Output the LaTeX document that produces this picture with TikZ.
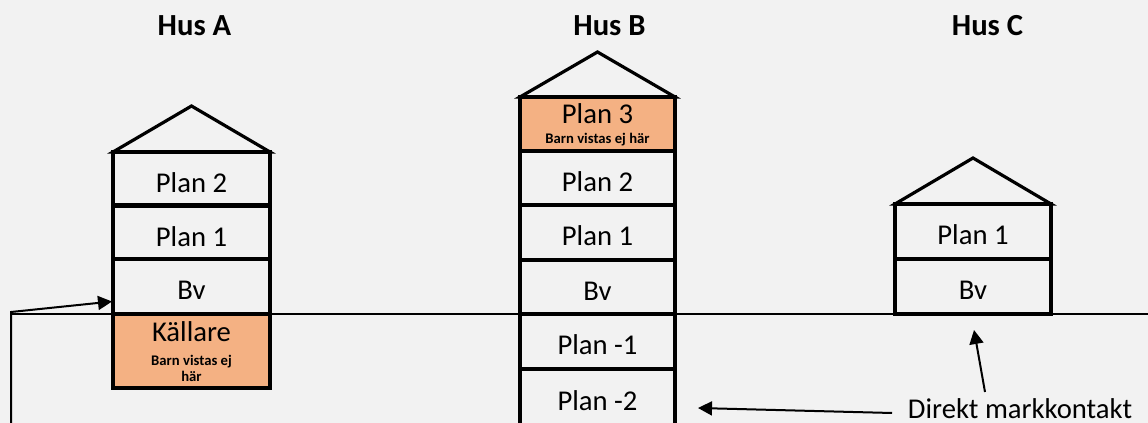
\documentclass[tikz,border=0pt]{standalone}
\usepackage{fontspec}
\setmainfont{Carlito}
\usetikzlibrary{arrows.meta,calc}
\definecolor{bg}{HTML}{F2F2F2}
\definecolor{warm}{HTML}{F4B183}
\tikzset{
  floorst/.style={draw, line width=3.2pt, inner sep=0pt, outer sep=0pt},
  lbl/.style={font=\fontsize{21.5}{24}\selectfont, anchor=base, inner sep=0pt},
  smalllbl/.style={font=\bfseries\fontsize{11}{13}\selectfont, anchor=base, inner sep=0pt},
  titlelbl/.style={font=\bfseries\fontsize{23}{26}\selectfont, anchor=base, inner sep=0pt},
  roof/.style={line width=2.4pt, line join=miter},
  ground/.style={line width=1.1pt},
  pointer/.style={line width=1.5pt, -{Triangle[length=10.5pt,width=10.5pt]}},
}
\newcommand\floorbox[6]{\node[floorst, fill=#6, minimum width={#5*0.75pt}, minimum height={(#4-#3)*0.75pt}] (#1) at (#2,{(#3+#4)/2}) {};}
\begin{document}
\begin{tikzpicture}[x=0.75pt,y=-0.75pt]
\fill[bg] (0,0) rectangle (1148,423);
\useasboundingbox (0,0) rectangle (1148,423);
\clip (0,0) rectangle (1148,423);

% titles
\node[titlelbl] (tA) at (194.5,36) {Hus A};
\node[titlelbl] (tB) at (609.5,36) {Hus B};
\node[titlelbl] (tC) at (987.5,36) {Hus C};

% ground line
\coordinate (gl) at (10,314);
\coordinate (gr) at (1150,314);
\draw[ground] (gl) -- (gr);

% House A
\floorbox{a2}{191.5}{152}{205.5}{157}{bg}
\floorbox{a1}{191.5}{205.5}{259}{157}{bg}
\floorbox{av}{191.5}{259}{314}{157}{bg}
\floorbox{ak}{191.5}{314}{388}{157}{warm}
\draw[roof] (a2.north west) -- ($(a2.north)+(0,-46)$) -- (a2.north east) -- cycle;
\node[lbl] (la2) at ($(a2.north)+(0,41)$) {Plan 2};
\node[lbl] (la1) at ($(a1.north)+(0,41)$) {Plan 1};
\node[lbl] (lav) at ($(av.north)+(0,41)$) {Bv};
\node[lbl] (lak) at ($(ak.north)+(0,28)$) {Källare};
\node[smalllbl] (lak2) at ($(ak.north)+(0,52)$) {Barn vistas ej};
\node[smalllbl] (lak3) at ($(ak.north)+(0,68)$) {här};

% House B
\floorbox{b3}{597.5}{97}{151}{155}{warm}
\floorbox{b2}{597.5}{151}{205}{155}{bg}
\floorbox{b1}{597.5}{205}{260}{155}{bg}
\floorbox{bv}{597.5}{260}{314}{155}{bg}
\floorbox{bm1}{597.5}{314}{369}{155}{bg}
\floorbox{bm2}{597.5}{369}{440}{155}{bg}
\draw[roof] (b3.north west) -- ($(b3.north)+(0,-45)$) -- (b3.north east) -- cycle;
\node[lbl] (lb3) at ($(b3.north)+(0,27)$) {Plan 3};
\node[smalllbl] (lb3s) at ($(b3.north)+(0,47)$) {Barn vistas ej här};
\node[lbl] (lb2) at ($(b2.north)+(0,41)$) {Plan 2};
\node[lbl] (lb1) at ($(b1.north)+(0,41)$) {Plan 1};
\node[lbl] (lbv) at ($(bv.north)+(0,41)$) {Bv};
\node[lbl] (lbm1) at ($(bm1.north)+(0,41)$) {Plan -1};
\node[lbl] (lbm2) at ($(bm2.north)+(0,42)$) {Plan -2};

% House C
\floorbox{c1}{973}{204}{259}{156}{bg}
\floorbox{cv}{973}{259}{314}{156}{bg}
\draw[roof] (c1.north west) -- ($(c1.north)+(0,-46)$) -- (c1.north east) -- cycle;
\node[lbl] (lc1) at ($(c1.north)+(0,41)$) {Plan 1};
\node[lbl] (lcv) at ($(cv.north)+(0,41)$) {Bv};

% annotation
\node[lbl] (dm) at (1020,418) {Direkt markkontakt};
\coordinate (p2s) at (892,413);
\coordinate (p2e) at (698,408);
\draw[pointer] (p2s) -- (p2e);
\coordinate (p3s) at (985,392);
\coordinate (p3e) at (974,330);
\draw[pointer] (p3s) -- (p3e);

% left pointer
\coordinate (lb) at (11,430);
\coordinate (lk) at (11,312);
\draw[pointer, line join=miter] (lb) -- (lk) -- ($(av.west)+(-1,15)$);
\end{tikzpicture}
\end{document}
